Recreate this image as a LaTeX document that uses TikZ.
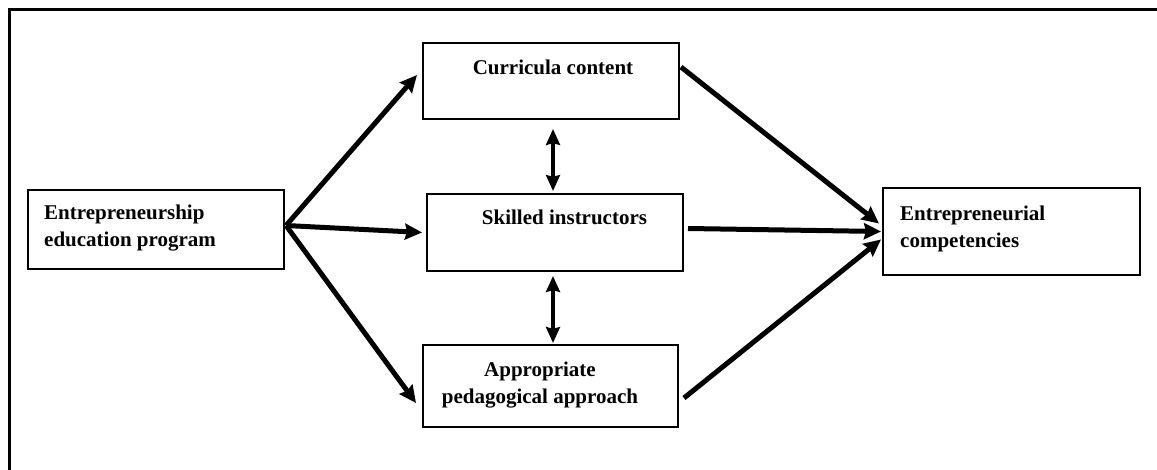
\documentclass[tikz,border=0pt]{standalone}
\usepackage{fontspec}
\setmainfont{Liberation Serif}
\usepackage{tikz}
\usetikzlibrary{arrows.meta}

\tikzset{
  box/.style={draw, line width=2pt, rectangle, inner sep=0pt},
  lbl/.style={inner sep=0pt, font=\fontsize{21}{27}\selectfont\bfseries},
  link/.style={line width=5pt, -{Stealth[length=17pt,width=16pt,inset=2pt]}},
  twoway/.style={line width=4.5pt, {Stealth[length=16pt,width=14pt,inset=2pt]}-{Stealth[length=16pt,width=14pt,inset=2pt]}}
}

\begin{document}
\begin{tikzpicture}[x=1pt,y=-1pt]
            % Picture size (pixels of the figure)
            \def\W{1157}  % width
            \def\H{470}   % height
            \useasboundingbox (0,0) rectangle (\W,\H);

            % Draw the frame (only top and left are seen)
            \draw[line width=3pt] (9.5,\H+10) -- (9.5,9.5) -- (\W+10,9.5);

            % Draw the boxes
            \node[box, minimum width=256pt, minimum height=79pt] (eep) at (156,229.5) {};
            \node[box, minimum width=256pt, minimum height=76pt] (cc)  at (551,81) {};
            \node[box, minimum width=256pt, minimum height=77pt] (sk)  at (555,232.5) {};
            \node[box, minimum width=255pt, minimum height=82pt] (ap)  at (550.5,386) {};
            \node[box, minimum width=257pt, minimum height=87pt] (ec)  at (1011.5,231.5) {};

            % Texts in the boxes
            \node[lbl, anchor=west, align=left] (eept) at (44,228.5) {Entrepreneurship\\education program};
            \node[lbl] (cct) at (553,67) {Curricula content};
            \node[lbl] (skt) at (564.5,217) {Skilled instructors};
            \node[lbl, align=center] (apt) at (540,385.5) {Appropriate\\pedagogical approach};
            \node[lbl, anchor=west, align=left] (ect) at (900,228.5) {Entrepreneurial\\competencies};

            % Draw arrows out of the program
            \draw[link] ([xshift=1pt,yshift=4pt]eep.east) -- ([xshift=-5pt,yshift=6pt]cc.west);
            \draw[link] ([xshift=1pt,yshift=4pt]eep.east) -- ([xshift=-4pt]sk.west);
            \draw[link] ([xshift=1pt,yshift=4pt]eep.east) -- ([xshift=-6pt,yshift=-17pt]ap.west);

            % Draw arrows into the competencies
            \draw[link] ([xshift=1pt,yshift=14pt]cc.east) -- ([xshift=-3pt,yshift=8pt]ec.west);
            \draw[link] ([xshift=4pt,yshift=4pt]sk.east) -- ([xshift=-1pt]ec.west);
            \draw[link] ([xshift=5pt,yshift=-12pt]ap.east) -- ([xshift=-1pt,yshift=-8pt]ec.west);

            % Draw two way arrows
            \draw[twoway] ([xshift=2pt,yshift=-9pt]cc.south) -- ([xshift=-2pt,yshift=2pt]sk.north);
            \draw[twoway] ([xshift=-2pt,yshift=-4pt]sk.south) -- ([xshift=2.5pt,yshift=1pt]ap.north);

        \end{tikzpicture}
\end{document}
